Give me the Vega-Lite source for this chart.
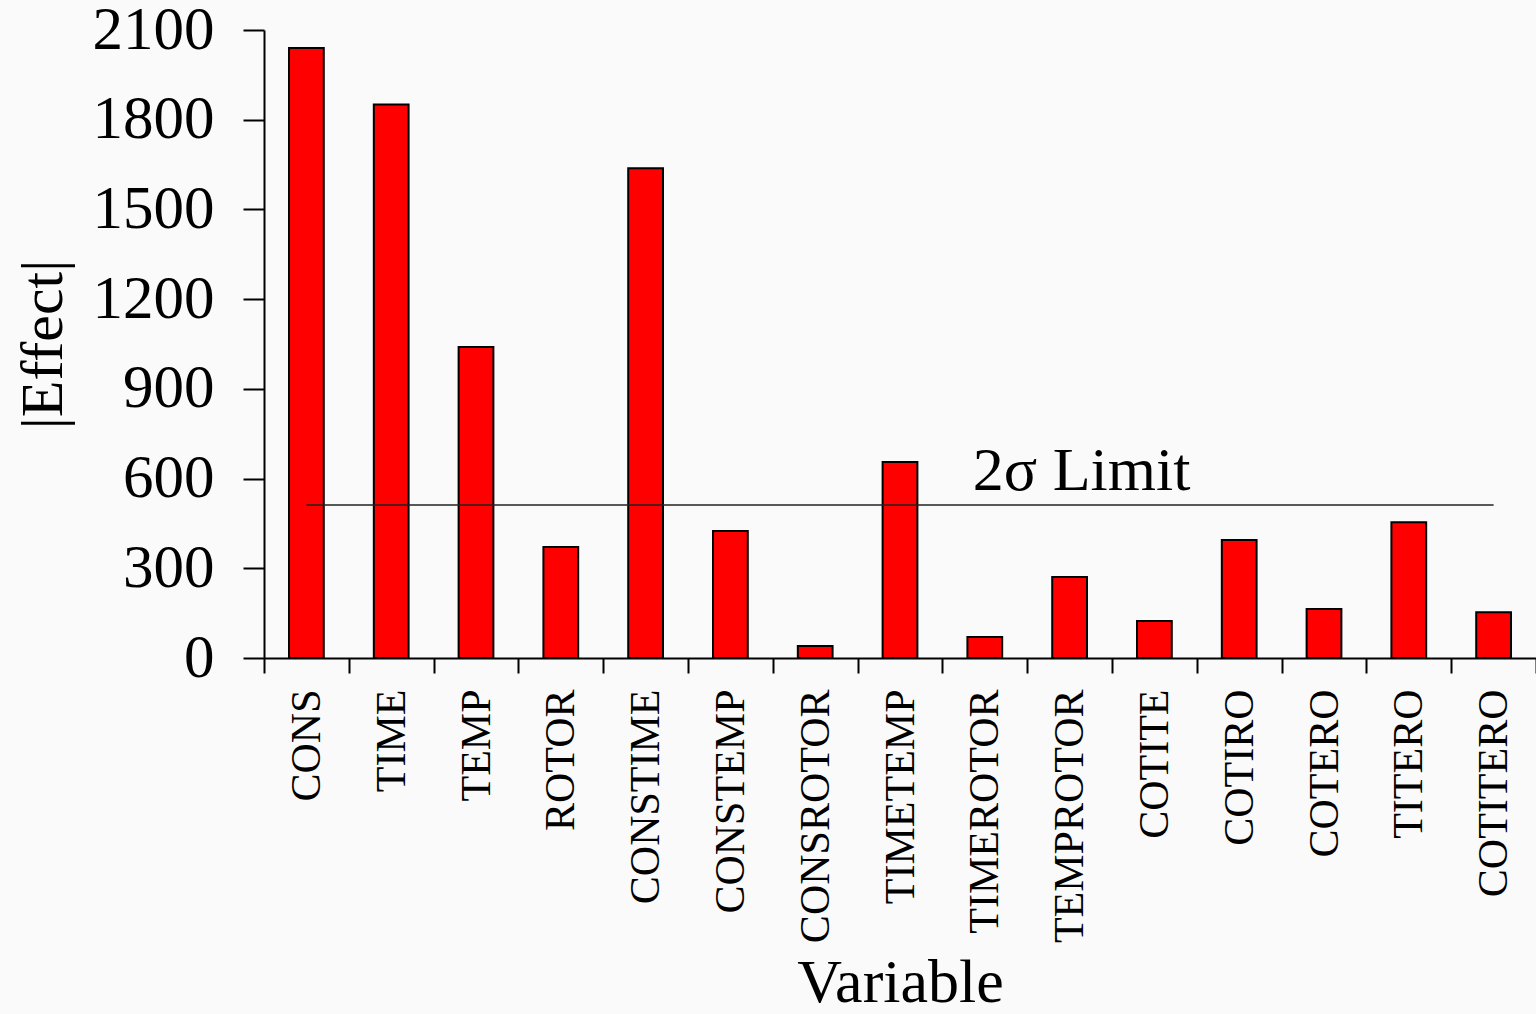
{
  "$schema": "https://vega.github.io/schema/vega-lite/v6.json",
  "width": 1272,
  "height": 628,
  "autosize": "none",
  "padding": {"left": 264, "top": 30, "right": 0, "bottom": 356},
  "background": "#fafafa",
  "config": {
    "view": {"stroke": null},
    "font": "Liberation Serif",
    "axis": {"grid": false, "domainColor": "#000", "tickColor": "#000", "labelColor": "#000", "titleColor": "#000", "titleFontWeight": "normal", "labelFont": "Liberation Serif", "titleFont": "Liberation Serif"}
  },
  "datasets": {
    "effects": [
      {"variable": "CONS", "effect": 2040},
      {"variable": "TIME", "effect": 1851},
      {"variable": "TEMP", "effect": 1040},
      {"variable": "ROTOR", "effect": 371},
      {"variable": "CONSTIME", "effect": 1638},
      {"variable": "CONSTEMP", "effect": 425},
      {"variable": "CONSROTOR", "effect": 40},
      {"variable": "TIMETEMP", "effect": 655},
      {"variable": "TIMEROTOR", "effect": 70},
      {"variable": "TEMPROTOR", "effect": 271},
      {"variable": "COTITE", "effect": 124},
      {"variable": "COTIRO", "effect": 395},
      {"variable": "COTERO", "effect": 164},
      {"variable": "TITERO", "effect": 454},
      {"variable": "COTITERO", "effect": 153}
    ],
    "limit": [
      {"from": "CONS", "to": "COTITERO", "effect": 512, "label": "2σ Limit", "at": "TIMEROTOR", "labelEffect": 562}
    ]
  },
  "layer": [
    {
      "data": {"name": "effects"},
      "mark": {"type": "bar", "fill": "#ff0000", "stroke": "#000", "strokeWidth": 2, "width": {"band": 0.41}},
      "encoding": {
        "x": {
          "field": "variable",
          "type": "nominal",
          "scale": {
            "domain": ["CONS", "TIME", "TEMP", "ROTOR", "CONSTIME", "CONSTEMP", "CONSROTOR", "TIMETEMP", "TIMEROTOR", "TEMPROTOR", "COTITE", "COTIRO", "COTERO", "TITERO", "COTITERO"],
            "paddingInner": 0,
            "paddingOuter": 0
          },
          "axis": {
            "title": "Variable",
            "titleFontSize": 62,
            "titlePadding": 94,
            "labelAngle": -90,
            "labelFontSize": 42,
            "labelPadding": 16,
            "labelLimit": 400,
            "labelOverlap": false,
            "labelBound": false,
            "tickBand": "extent",
            "tickSize": 15,
            "tickWidth": 2,
            "domainWidth": 2
          }
        },
        "y": {
          "field": "effect",
          "type": "quantitative",
          "scale": {"domain": [0, 2100], "nice": false},
          "axis": {
            "title": "|Effect|",
            "titleFontSize": 60,
            "titlePadding": 18,
            "values": [0, 300, 600, 900, 1200, 1500, 1800, 2100],
            "format": "d",
            "labelFontSize": 61,
            "labelPadding": 29,
            "labelBound": false,
            "labelFlush": false,
            "tickSize": 21,
            "tickWidth": 2,
            "domainWidth": 2
          }
        }
      }
    },
    {
      "data": {"name": "limit"},
      "mark": {"type": "rule", "stroke": "#222", "strokeWidth": 1.5},
      "encoding": {
        "x": {"field": "from", "type": "nominal"},
        "x2": {"field": "to"},
        "y": {"field": "effect", "type": "quantitative"}
      }
    },
    {
      "data": {"name": "limit"},
      "mark": {"type": "text", "align": "left", "baseline": "alphabetic", "fontSize": 62, "dx": -12, "color": "#000"},
      "encoding": {
        "x": {"field": "at", "type": "nominal"},
        "y": {"field": "labelEffect", "type": "quantitative"},
        "text": {"field": "label"}
      }
    },
    {
      "mark": {"type": "rule", "stroke": "#000", "strokeWidth": 2},
      "encoding": {"y": {"datum": 2100}}
    }
  ]
}
